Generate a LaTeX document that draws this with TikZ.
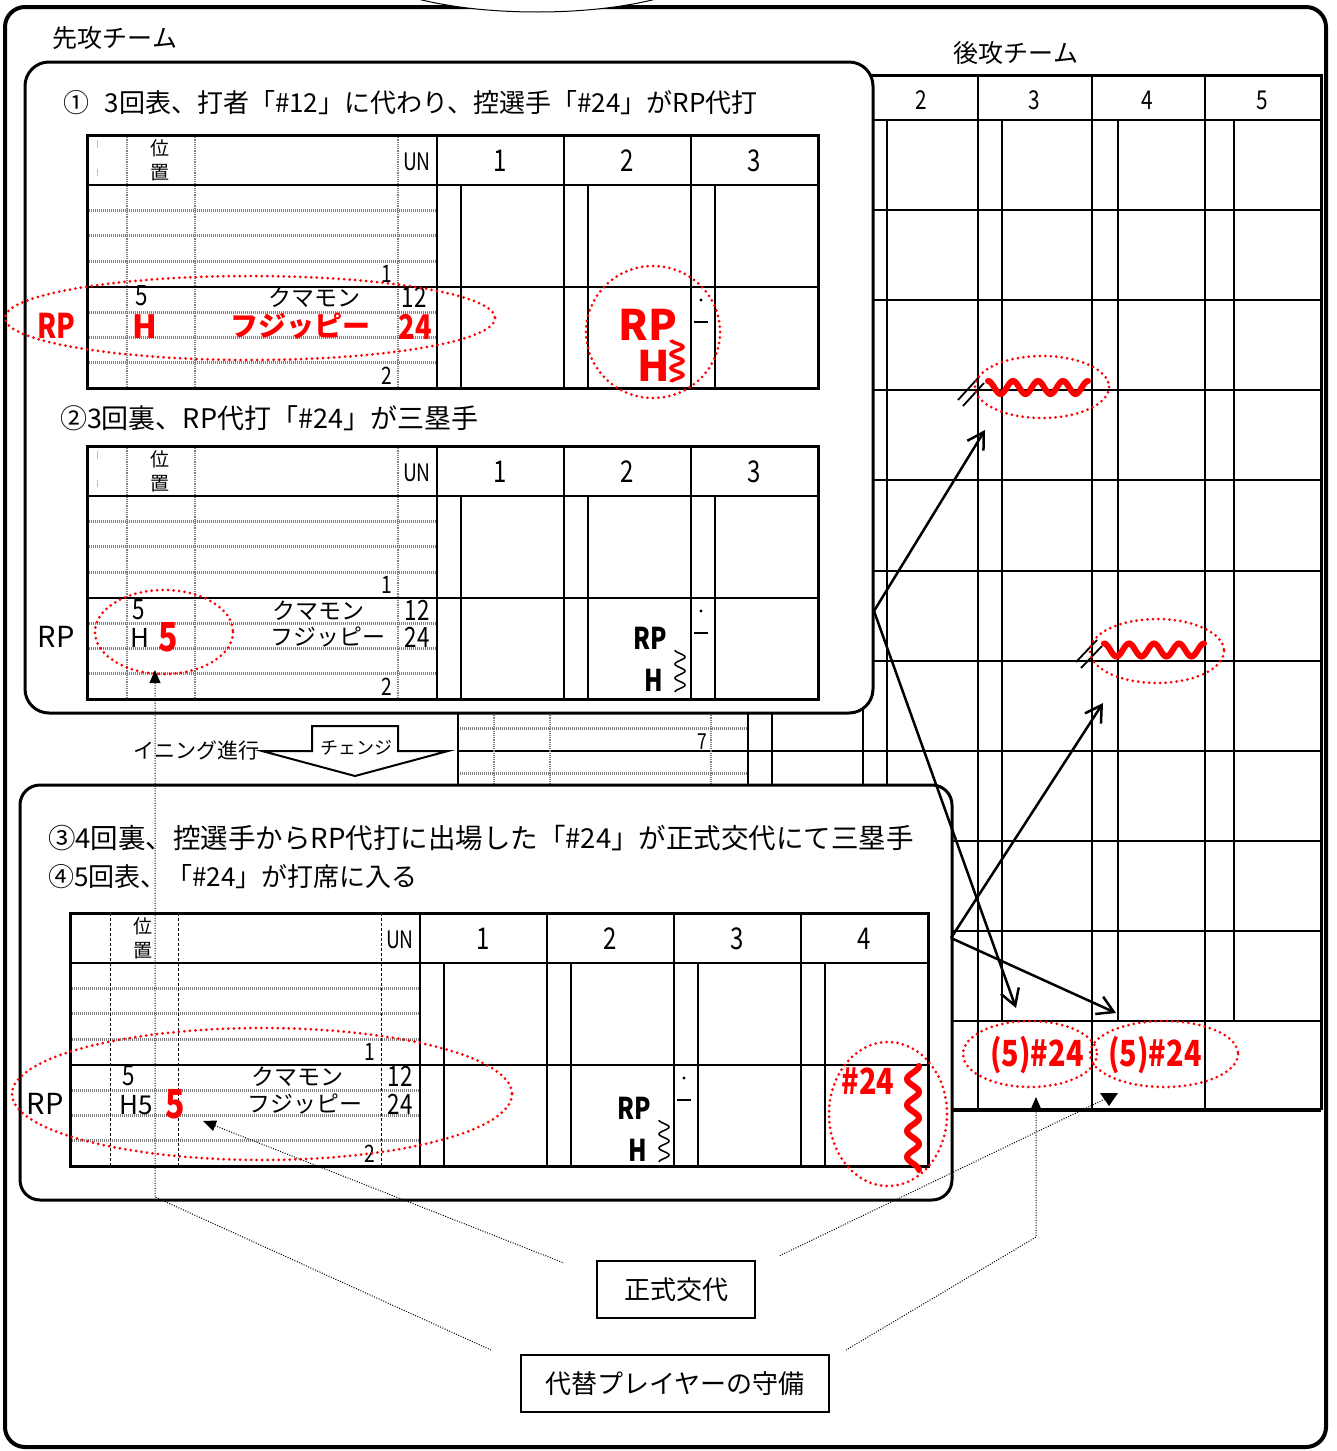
\documentclass[tikz,border=0pt]{standalone}
\usepackage{fontspec}
\setmainfont{Noto Sans CJK JP}
\newfontfamily\cnd[FakeStretch=0.8]{Noto Sans CJK JP}
\usetikzlibrary{arrows.meta}
\newcommand\fsz[1]{\fontsize{#1}{#1}\selectfont}
\tikzset{
 every node/.append style={inner sep=0pt,outer sep=0pt},
 tx/.style={font=\fsz{#1}},
 cx/.style={font=\cnd\fsz{#1}},
 rb/.style={text=red,font=\bfseries\fsz{#1}},
 rbc/.style={text=red,font=\bfseries\cnd\fsz{#1}},
 bbc/.style={font=\bfseries\cnd\fsz{#1}},
 outerframe/.style={line width=4pt,rounded corners=20pt},
 panel/.style={draw,line width=3pt,fill=white,rounded corners=24pt},
 tabout/.style={line width=3pt},
 tabln/.style={line width=2pt},
 gdash/.style={draw=gray,line width=3pt,dash pattern=on 1pt off 1pt},
 gdashv/.style={draw=gray,line width=1.8pt,dash pattern=on 1.2pt off 1pt},
 bdashv/.style={draw=black,line width=1pt,dash pattern=on 3pt off 2pt},
 gridl/.style={line width=2pt},
 reddot/.style={draw=red,line width=3pt,dash pattern=on 0pt off 5.5pt,line cap=round},
 dotln/.style={line width=1pt,dash pattern=on 1pt off 1.5pt},
 arr/.style={line width=2.5pt,-{Straight Barb[length=16pt,width=19pt]}},
 tritip/.style={{Triangle[length=13pt,width=11pt]}-},
 redwave/.style={draw=red,line width=6pt,line cap=round},
}
% #1 prefix, #2 x0, #3 y0, #4 ncols, #5 vertical dash style
\newcommand\ScoreTab[5]{%
\begin{scope}[shift={(#2,#3)}]
 \foreach \yy in {75.4,100.8,126.2,177,202.4,227.8} \draw[gdash] (0,\yy) -- (350,\yy);
 \foreach \xx in {40,108,311} \draw[#5] (\xx,0) -- (\xx,253);
 \foreach \i in {1,...,#4} {
   \draw[tabln] ({350+127*(\i-1)+24},50) -- ++(0,203);
   \draw[tabln] ({350+127*\i},0) -- ++(0,253);
   \node[cx=30] (#1h\i) at ({350+127*(\i-0.5)},26) {\i};
 }
 \draw[tabln] (350,0) -- (350,253);
 \draw[tabln] (0,50) -- ({350+127*#4},50);
 \draw[tabln] (0,151.6) -- ({350+127*#4},151.6);
 \draw[tabout] (0,0) rectangle ({350+127*#4},253);
 \node[tx=19] (#1pa) at (73,13) {位};
 \node[tx=19] (#1pb) at (73,38) {置};
 \node[cx=24] (#1un) at (330,27) {UN};
 \node[cx=24] (#1ba) at (300,139) {1};
 \node[cx=24] (#1bb) at (300,241) {2};
 \fill (614,165) circle (1.7);
 \draw[line width=1.3pt] (607,187) -- (621,187);
\end{scope}}
\begin{document}
\begin{tikzpicture}[x=1pt,y=-1pt]
\useasboundingbox (0,0) rectangle (1336,1451);
\draw[outerframe] (5,7) rectangle (1326,1447);
\draw[line width=1pt,fill=white] (537,-40) ellipse [x radius=180,y radius=52];
\node[tx=25] (sen) at (115,38) {先攻チーム};
\node[tx=25] (kou) at (1016,53) {後攻チーム};

% ---------- home team sheet (underneath) ----------
\begin{scope}[gridl]
 \foreach \k in {1,...,10} \draw (458,{120+90.1*\k}) -- (1321,{120+90.1*\k});
 \foreach \k in {0,...,9} \foreach \j in {1,2,3}
   \draw[gdash] (458,{120+90.1*\k+22.5*\j}) -- (748,{120+90.1*\k+22.5*\j});
 \foreach \xx in {494,550,711} \draw[gdashv] (\xx,75) -- (\xx,1021);
 \foreach \xx in {772,887,1002,1118,1234} \draw (\xx,120) -- (\xx,1021);
 \foreach \xx in {458,748,863,978,1092,1205} \draw (\xx,75) -- (\xx,1110);
 \draw (458,120) -- (1321,120);
 \draw[line width=3pt] (458,75) -- (1321,75) -- (1321,1110);
 \draw[line width=4pt] (458,1110) -- (1321,1110);
\end{scope}
\node[cx=26] (kh2) at (921,100) {2};
\node[cx=26] (kh3) at (1034,100) {3};
\node[cx=26] (kh4) at (1147,100) {4};
\node[cx=26] (kh5) at (1262,100) {5};
\node[cx=22] (k7) at (702,742) {7};

% red marks on the home sheet
\draw[redwave] plot[domain=0:4,samples=81] ({988+25*\x},{387.5-6.5*cos(360*\x)});
\draw[line width=1.8pt] (958,400) -- (979,377);
\draw[line width=1.8pt] (963,406) -- (984,383);
\draw[reddot] (1042,387) ellipse [x radius=67,y radius=31];
\draw[redwave] plot[domain=0:4,samples=81] ({1104+25*\x},{650-6.5*cos(360*\x)});
\draw[line width=1.8pt] (1076,662) -- (1097,640);
\draw[line width=1.8pt] (1081,668) -- (1102,646);
\draw[reddot] (1157,651) ellipse [x radius=67,y radius=32];
\node[rbc=36] (f1) at (1037,1055) {(5)\#24};
\node[rbc=36] (f2) at (1155,1055) {(5)\#24};
\draw[reddot] (1030,1054) ellipse [x radius=67,y radius=33];
\draw[reddot] (1164,1054) ellipse [x radius=74,y radius=33];

% ---------- panels ----------
\draw[panel] (25,62) rectangle (873,713);
\draw[panel,rounded corners=20pt] (20,785) rectangle (952,1200);

% ---------- panel 1 ----------
\node[tx=26,anchor=west] (t1) at (63,103) {①\hspace{0.6em}3回表、打者「\#12」に代わり、控選手「\#24」がRP代打};
\ScoreTab{ta}{87}{135}{3}{gdashv}
\draw[gray!50,line width=1pt] (97,140) -- (97,148) (97,169) -- (97,176);
\node[cx=28] (a5) at (142,296) {5};
\node[tx=23] (akm) at (314,298) {クマモン};
\node[cx=28] (a12) at (414,297) {12};
\node[rbc=34] (arp) at (56,326) {RP};
\node[rb=32] (ah) at (145,327) {H};
\node[rb=28] (afj) at (300,326) {フジッピー};
\node[rbc=34] (a24) at (415,327) {24};
\node[rb=42] (arp2) at (648,325) {RP};
\node[rb=42] (ah2) at (654,366) {H};
\draw[red,line width=3.5pt] plot[domain=0:3,samples=61] ({677-6*cos(360*\x)},{340+14*\x});
\draw[reddot] (250,318) ellipse [x radius=245,y radius=42];
\draw[reddot] (653,332) ellipse [x radius=67,y radius=66];

\node[tx=27,anchor=west] (t2) at (60,418) {②3回裏、RP代打「\#24」が三塁手};
\ScoreTab{tb}{87}{446}{3}{gdashv}
\draw[gray!50,line width=1pt] (97,451) -- (97,459) (97,480) -- (97,487);
\node[cx=28] (b5) at (139,610) {5};
\node[tx=23] (bkm) at (318,611) {クマモン};
\node[cx=28] (b12) at (417,610) {12};
\node[tx=29] (brp) at (56,637) {RP};
\node[tx=26] (bh) at (140,638) {H};
\node[rbc=40] (b5r) at (168,637) {5};
\node[tx=23] (bfj) at (328,637) {フジッピー};
\node[cx=28] (b24) at (417,637) {24};
\node[bbc=30] (brp2) at (650,638) {RP};
\node[bbc=30] (bh2) at (654,680) {H};
\draw[line width=1.5pt] plot[domain=0:3,samples=61] ({680-5*cos(360*\x)},{650+14*\x});
\draw[reddot] (164,632) ellipse [x radius=69,y radius=42];

% ---------- inning change ----------
\node[tx=21,anchor=east] (inn) at (259,751) {イニング進行};
\draw[line width=2pt,fill=white] (262,751) -- (312,751) -- (312,726) -- (398,726) -- (398,751) -- (448,751) -- (355,776) -- cycle;
\node[tx=18] (chg) at (356,748) {チェンジ};

% ---------- panel 3 ----------
\node[tx=27.5,anchor=west] (t3) at (48,838) {③4回裏、控選手からRP代打に出場した「\#24」が正式交代にて三塁手};
\node[tx=26,anchor=west] (t4) at (48,877) {④5回表、「\#24」が打席に入る};
\ScoreTab{tc}{70}{913}{4}{bdashv}
\node[cx=28] (c5) at (129,1076) {5};
\node[tx=23] (ckm) at (297,1077) {クマモン};
\node[cx=28] (c12) at (400,1076) {12};
\node[tx=29] (crp) at (45,1104) {RP};
\node[tx=26] (ch5) at (136,1105) {H5};
\node[rbc=40] (c5r) at (175,1104) {5};
\node[tx=23] (cfj) at (305,1104) {フジッピー};
\node[cx=28] (c24) at (400,1104) {24};
\node[bbc=30] (crp2) at (634,1108) {RP};
\node[bbc=30] (ch2) at (638,1150) {H};
\draw[line width=1.5pt] plot[domain=0:3,samples=61] ({664-5*cos(360*\x)},{1120+14*\x});
\node[rbc=36] (c24r) at (868,1081) {\#24};
\draw[redwave] plot[domain=0:4,samples=81] ({913+6*cos(360*\x)},{1066+26*\x});
\draw[reddot] (262,1094) ellipse [x radius=250,y radius=66];
\draw[reddot] (888,1114) ellipse [x radius=59,y radius=72];

% ---------- boxes ----------
\node[draw,line width=1.5pt,minimum width=158pt,minimum height=57pt,tx=26] (seishiki) at (676,1289.5) {正式交代};
\node[draw,line width=1.5pt,minimum width=308pt,minimum height=57pt,tx=26] (daitai) at (675,1383.5) {代替プレイヤーの守備};

% ---------- dotted pointers ----------
\coordinate (tA) at (155,670);
\coordinate (kA) at (155,1197);
\coordinate (eA) at (491,1350);
\draw[dotln,tritip] (tA) -- (kA) -- (eA);
\coordinate (tB) at (203,1121);
\coordinate (eB) at (564,1263);
\draw[dotln,tritip] (tB) -- (eB);
\coordinate (tD) at (1036,1097);
\coordinate (kD) at (1036,1237);
\coordinate (eD) at (846,1350);
\draw[dotln,tritip] (tD) -- (kD) -- (eD);
\coordinate (tC) at (1105,1099);
\coordinate (eC) at (779,1256);
\fill (1100,1093) -- (1118,1093) -- (1109,1106) -- cycle;
\draw[dotln] (tC) -- (eC);

% ---------- arrows ----------
\coordinate (p1) at (874,611);
\coordinate (p3) at (951,938);
\coordinate (e1) at (985,430);
\coordinate (e2) at (1016,1008);
\coordinate (e3) at (1103,703);
\coordinate (e4) at (1116,1013);
\draw[arr] (p1) -- (e1);
\draw[arr] (p1) -- (e2);
\draw[arr] (p3) -- (e3);
\draw[arr] (p3) -- (e4);
\end{tikzpicture}
\end{document}
